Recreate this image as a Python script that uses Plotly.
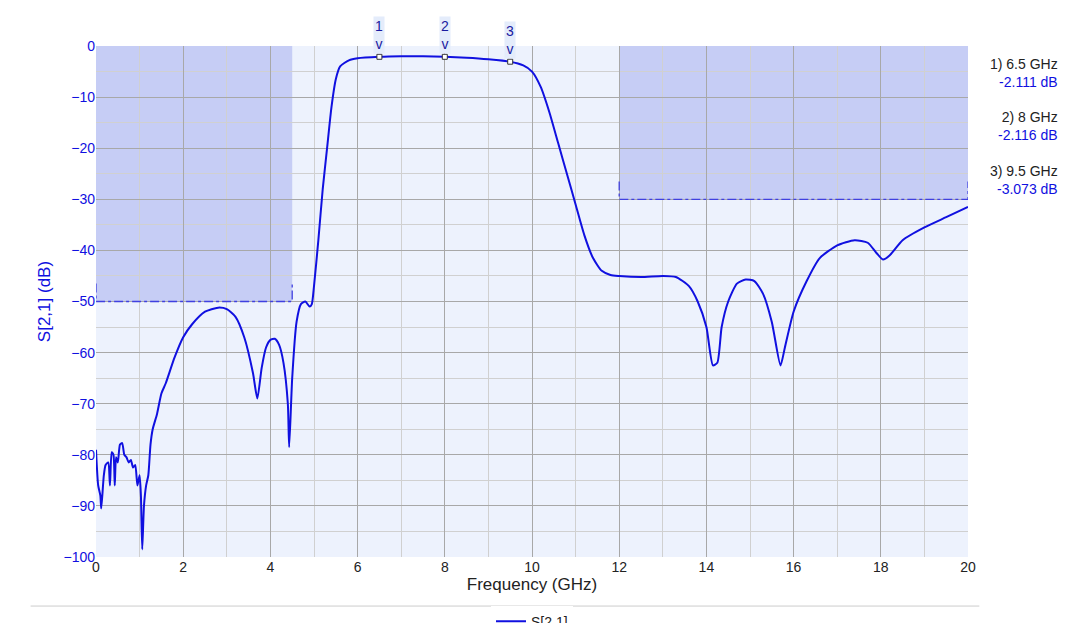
import plotly.graph_objects as go

freq = [0, 0.05, 0.1, 0.12, 0.18, 0.22, 0.28, 0.32, 0.36, 0.4, 0.43, 0.46, 0.5, 0.55, 0.6, 0.65,
        0.7, 0.75, 0.8, 0.85, 0.9, 0.95, 1.0, 1.03, 1.06, 1.1, 1.15, 1.2, 1.25, 1.3, 1.4, 1.5,
        1.6, 1.8, 2.0, 2.2, 2.5, 2.8, 3.0, 3.2, 3.4, 3.6, 3.7, 3.8, 3.9, 4.0, 4.1, 4.2, 4.3,
        4.4, 4.43, 4.5, 4.6, 4.7, 4.8, 4.9, 4.95, 5.0, 5.1, 5.2, 5.3, 5.4, 5.5, 5.6, 5.8, 6.0,
        6.5, 7.0, 7.5, 8.0, 8.5, 9.0, 9.5, 9.8, 10.0, 10.2, 10.4, 10.6, 10.8, 11.0, 11.2, 11.4,
        11.6, 11.8, 12.0, 12.5, 13.0, 13.3, 13.6, 13.8, 14.0, 14.15, 14.25, 14.35, 14.5, 14.7,
        14.9, 15.1, 15.3, 15.5, 15.7, 15.8, 16.0, 16.3, 16.6, 17.0, 17.4, 17.7, 17.9, 18.05,
        18.2, 18.5, 19.0, 19.5, 20.0]
s21 = [-79, -86, -88, -90.5, -84, -82, -81.5, -86, -79.5, -80, -86, -80.5, -81.5, -78, -77.7, -80,
       -80.5, -81.5, -81, -82.5, -82, -86, -84, -88, -98.5, -90, -86, -84, -78, -75, -72, -68,
       -66, -61, -57, -54.5, -52, -51.2, -51.5, -53, -57, -64, -69, -63, -59, -57.5, -57.3, -58.5, -62,
       -70, -78.5, -65, -54, -50.5, -50, -51, -50.5, -47, -38, -28, -20, -12, -6.5, -4, -2.8, -2.4,
       -2.111, -2.0, -2.0, -2.116, -2.3, -2.6, -3.073, -3.8, -5, -8, -13, -19, -25, -31, -37, -41.5,
       -44, -44.8, -45, -45.2, -45, -45.2, -47, -50, -55, -62.5, -62, -55, -50, -46.5,
       -45.7, -46, -48.5, -54, -62.5, -59, -52, -46, -41.5, -39, -38, -38.5, -40.5, -41.8,
       -41, -38, -35.5, -33.5, -31.5]

marker_f = [6.5, 8, 9.5]
marker_db = [-2.111, -2.116, -3.073]
marker_labels = ["1", "2", "3"]

# mask regions: (start, end, limit)
masks = [(0, 4.5, -50), (12, 20, -30)]

BLUE = "#1010e0"
fig = go.Figure()

for x0, x1, lim in masks:
    fig.add_shape(type="rect", x0=x0, x1=x1, y0=lim, y1=0, fillcolor="rgba(150,160,235,0.45)",
                  line_width=0, layer="below")
    fig.add_trace(go.Scatter(x=[x0, x0, x1, x1], y=[lim + 3.5, lim, lim, lim + 3.5], mode="lines",
                             line=dict(color="#4040e0", width=1.3, dash="dashdot"),
                             showlegend=False, hoverinfo="skip"))

fig.add_trace(go.Scatter(x=freq, y=s21, mode="lines", name="S[2,1]",
                         line=dict(color=BLUE, width=2, shape="spline", smoothing=0.6)))
fig.add_trace(go.Scatter(x=marker_f, y=marker_db, mode="markers", showlegend=False,
                         marker=dict(symbol="square", size=5, color="white",
                                     line=dict(color="#333", width=1))))

for f, db, lab in zip(marker_f, marker_db, marker_labels):
    fig.add_annotation(x=f, y=db, text=lab + "<br>v", showarrow=False, yshift=22,
                       bgcolor="#e4ecfb", font=dict(size=14, color="#1a1aa0"))

for i, (f, db) in enumerate(zip(marker_f, marker_db)):
    fig.add_annotation(xref="paper", yref="paper", x=1.105, y=0.985 - i * 0.105, xanchor="right",
                       align="right", showarrow=False,
                       text=f"{i+1}) {f:g} GHz<br><span style='color:{BLUE}'>{db:.3f} dB</span>",
                       font=dict(size=14, color="#222"))

fig.update_layout(
    width=1079, height=623, margin=dict(l=88, r=119, t=38, b=74, autoexpand=False),
    paper_bgcolor="white", plot_bgcolor="#edf2fd",
    font=dict(family="Liberation Sans, Arial", size=14, color="#222"),
    xaxis=dict(range=[0, 20], dtick=2, minor=dict(dtick=1, showgrid=True, gridcolor="#d0d0d0"),
               showgrid=True, gridcolor="#a8a8a8", zeroline=False, automargin=False,
               title=dict(text="Frequency (GHz)", standoff=4), tickfont=dict(color="#222")),
    yaxis=dict(range=[-100, 0], dtick=10, minor=dict(dtick=5, showgrid=True, gridcolor="#d0d0d0"),
               showgrid=True, gridcolor="#a8a8a8", zeroline=False, automargin=False,
               title=dict(text="S[2,1] (dB)", font=dict(color=BLUE), standoff=8),
               tickfont=dict(color=BLUE)),
    legend=dict(orientation="h", x=0.5, xanchor="center", y=-0.095, yanchor="top",
                font=dict(color="#222")),
)
fig.add_shape(type="line", xref="paper", yref="paper", x0=-0.075, x1=1.013, y0=-0.096, y1=-0.096,
              line=dict(color="#cccccc", width=1))
fig.write_html("out.html")
